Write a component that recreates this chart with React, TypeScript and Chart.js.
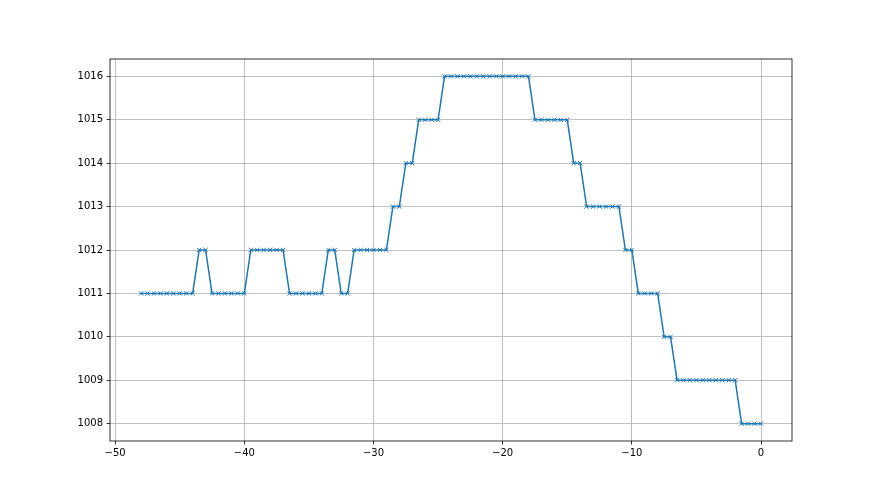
import React, { useEffect, useRef } from 'react';
import { Chart, registerables } from 'chart.js';

Chart.register(...registerables);

const hours: number[] = [
  -48, -47.5, -47, -46.5, -46, -45.5, -45, -44.5, -44, -43.5,
  -43, -42.5, -42, -41.5, -41, -40.5, -40, -39.5, -39, -38.5,
  -38, -37.5, -37, -36.5, -36, -35.5, -35, -34.5, -34, -33.5,
  -33, -32.5, -32, -31.5, -31, -30.5, -30, -29.5, -29, -28.5,
  -28, -27.5, -27, -26.5, -26, -25.5, -25, -24.5, -24, -23.5,
  -23, -22.5, -22, -21.5, -21, -20.5, -20, -19.5, -19, -18.5,
  -18, -17.5, -17, -16.5, -16, -15.5, -15, -14.5, -14, -13.5,
  -13, -12.5, -12, -11.5, -11, -10.5, -10, -9.5, -9, -8.5,
  -8, -7.5, -7, -6.5, -6, -5.5, -5, -4.5, -4, -3.5,
  -3, -2.5, -2, -1.5, -1, -0.5, 0,
];

const pressure: number[] = [
  1011, 1011, 1011, 1011, 1011, 1011, 1011, 1011, 1011, 1012,
  1012, 1011, 1011, 1011, 1011, 1011, 1011, 1012, 1012, 1012,
  1012, 1012, 1012, 1011, 1011, 1011, 1011, 1011, 1011, 1012,
  1012, 1011, 1011, 1012, 1012, 1012, 1012, 1012, 1012, 1013,
  1013, 1014, 1014, 1015, 1015, 1015, 1015, 1016, 1016, 1016,
  1016, 1016, 1016, 1016, 1016, 1016, 1016, 1016, 1016, 1016,
  1016, 1015, 1015, 1015, 1015, 1015, 1015, 1014, 1014, 1013,
  1013, 1013, 1013, 1013, 1013, 1012, 1012, 1011, 1011, 1011,
  1011, 1010, 1010, 1009, 1009, 1009, 1009, 1009, 1009, 1009,
  1009, 1009, 1009, 1008, 1008, 1008, 1008,
];

const xTicks: number[] = [-50, -40, -30, -20, -10, 0];
const yTicks: number[] = [1008, 1009, 1010, 1011, 1012, 1013, 1014, 1015, 1016];

const fmt = (v: number) => (v < 0 ? '\u2212' + String(Math.abs(v)) : String(v));

const framePlugin = {
  id: 'frame',
  beforeDatasetsDraw(chart: any) {
    const { ctx, chartArea } = chart;
    ctx.save();
    ctx.strokeStyle = '#000';
    ctx.lineWidth = 0.8;
    ctx.strokeRect(chartArea.left, chartArea.top, chartArea.right - chartArea.left, chartArea.bottom - chartArea.top);
    ctx.restore();
  },
};

export default function App() {
  const ref = useRef<HTMLCanvasElement | null>(null);

  useEffect(() => {
    if (!ref.current) return;
    const font = { family: 'DejaVu Sans', size: 10 };
    const chart = new Chart(ref.current, {
      type: 'scatter',
      data: {
        datasets: [
          {
            data: hours.map((h, i) => ({ x: h, y: pressure[i] })),
            showLine: true,
            borderColor: '#1f77b4',
            backgroundColor: '#1f77b4',
            borderWidth: 1.5,
            pointStyle: 'crossRot',
            pointRadius: 3,
            pointBorderWidth: 1,
            pointBorderColor: '#1f77b4',
          },
        ],
      },
      options: {
        responsive: false,
        animation: false,
        layout: { padding: { left: 70, top: 59, right: 88, bottom: 24 } },
        plugins: { legend: { display: false }, tooltip: { enabled: false } },
        scales: {
          x: {
            type: 'linear',
            min: -50.4,
            max: 2.4,
            afterBuildTicks: (axis: any) => {
              axis.ticks = xTicks.map((v) => ({ value: v }));
            },
            afterFit: (scale: any) => {
              scale.height = 30;
            },
            ticks: {
              font,
              color: '#000',
              padding: 3,
              maxRotation: 0,
              autoSkip: false,
              callback: (v: any) => fmt(Number(v)),
            },
            grid: {
              color: '#b0b0b0',
              lineWidth: 0.8,
              drawTicks: true,
              tickLength: 3.5,
              tickColor: '#000',
              tickWidth: 0.8,
            },
            border: { display: false },
          },
          y: {
            type: 'linear',
            min: 1007.6,
            max: 1016.4,
            afterBuildTicks: (axis: any) => {
              axis.ticks = yTicks.map((v) => ({ value: v }));
            },
            afterFit: (scale: any) => {
              scale.width = 40;
            },
            ticks: {
              font,
              color: '#000',
              padding: 3.5,
              autoSkip: false,
              callback: (v: any) => fmt(Number(v)),
            },
            grid: {
              color: '#b0b0b0',
              lineWidth: 0.8,
              drawTicks: true,
              tickLength: 3.5,
              tickColor: '#000',
              tickWidth: 0.8,
            },
            border: { display: false },
          },
        },
      },
      plugins: [framePlugin],
    });
    return () => chart.destroy();
  }, []);

  return (
    <div style={{ position: 'fixed', left: 0, top: 0, width: 880, height: 495, background: '#fff' }}>
      <canvas ref={ref} width={880} height={495} style={{ width: 880, height: 495 }} />
    </div>
  );
}
